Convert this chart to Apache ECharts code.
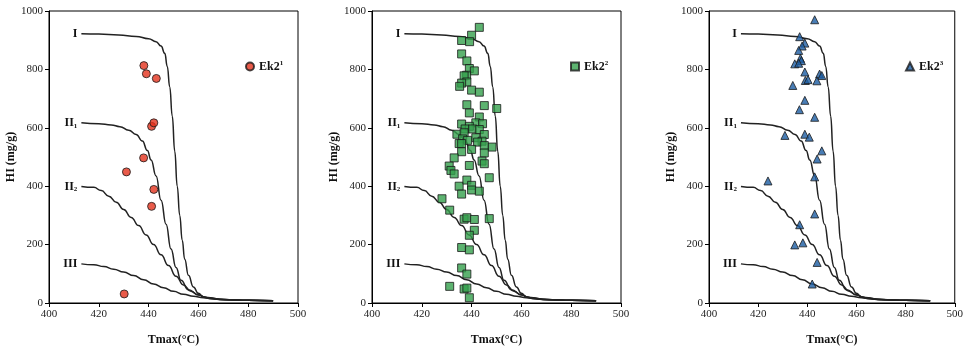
<!DOCTYPE html>
<html>
<head>
<meta charset="utf-8">
<script src="https://cdn.jsdelivr.net/npm/echarts@6/dist/echarts.min.js"></script>
<style>
  html, body { margin: 0; padding: 0; background: #fff; }
  #chart { width: 966px; height: 351px; }
</style>
</head>
<body>
<div id="chart"></div>
<script>
// kerogen type boundary curves (Tmax, HI)
const curveI = [[413,922],[420,921],[428,918],[435,913],[440,905],[443,895],[445,880],[446.5,855],[447.5,810],[448.5,740],[449.5,640],[450.5,520],[451.5,400],[452.5,300],[453.5,215],[454.5,150],[456,95],[458,55],[460,33],[462,21],[465,15],[470,11],[480,9],[490,8]];
const curveII1 = [[413,617],[420,614],[425,610],[428.5,604],[432,592],[435,577],[437.5,555],[439.5,522],[441,490],[443,435],[445,352],[447,270],[449,185],[451,122],[453,78],[456,45],[460,28],[463,19],[470,12],[480,9],[490,8]];
const curveII2 = [[413,399],[418,396],[421,385],[424,366],[427,345],[430,320],[433,293],[436,265],[439,233],[442,200],[445,165],[448,128],[451,92],[454,62],[457,40],[460,27],[463,19],[470,12],[480,9],[490,8]];
const curveIII = [[413,134],[418,131],[422,125],[426,116],[430,106],[434,94],[438,80],[442,65],[446,52],[450,40],[454,30],[458,23],[462,18],[466,14],[472,11],[480,9],[490,8]];

// samples (Tmax, HI)
const ek21 = [[438.1,813],[439.1,785],[443.1,769],[441.2,605],[442.1,617],[438.0,497],[431.1,449],[442.1,389],[441.2,331],[430.2,31]];
const ek22 = [
  [443.1,944],[440.0,917],[436.0,899],[439.2,895],[436.0,853],[438.1,829],[439.1,803],[441.1,795],[438.0,780],[437.0,778],
  [438.1,757],[436.0,753],[435.2,742],[440.0,729],[443.1,722],
  [438.1,679],[445.1,676],[450.1,666],[439.1,651],[443.1,637],[436.0,613],[441.7,617],[444.4,614],[439.1,605],[437.4,596],
  [440.4,596],[443.1,594],[434.1,578],[437.0,583],[445.1,577],[441.7,566],[436.4,562],[444.2,554],[438.4,557],[435.0,546],
  [436.0,546],[442.4,551],[448.2,534],[445.1,539],[440.0,526],[436.0,518],[445.1,514],[433.0,497],[444.2,486],[439.1,471],
  [431.0,469],[445.1,477],[431.7,454],[433.0,442],
  [447.1,429],[435.0,400],[438.1,421],[440.0,403],[440.0,387],[443.1,383],[436.0,373],[428.1,357],[431.2,318],[437.0,287],
  [438.1,292],[441.1,286],[447.1,289],[441.1,249],[439.1,232],[436.0,190],[439.1,182],[436.0,120],[438.1,99],[431.2,57],
  [437.0,48],[438.1,51],[439.1,18]
];
const ek23 = [
  [443.0,970],[436.9,912],[439.0,890],[437.9,880],[436.5,865],[437.2,838],[437.6,830],[434.9,819],[436.5,821],[439.0,791],
  [445.0,784],[445.9,779],[434.1,745],[439.2,762],[440.3,765],[443.9,761],[439.0,694],[436.8,662],[443.0,636],[430.9,574],
  [439.0,578],[440.8,568],[445.9,521],[444.0,493],[443.0,432],[424.0,418],[443.0,305],[436.9,268],[438.2,206],[434.9,199],
  [444.0,139],[442.0,65]
];

const xTicks = [400, 500, 20];
const yTicks = [0, 1000, 200];

const serif = '"Liberation Serif", "Times New Roman", serif';

const panels = [
  { name: 'Ek2_1', sup: '1', data: ek21, symbol: 'circle', color: '#e3321d', left: 49, legendLeft: 240 },
  { name: 'Ek2_2', sup: '2', data: ek22, symbol: 'rect', color: '#35a04c', left: 372, legendLeft: 565 },
  { name: 'Ek2_3', sup: '3', data: ek23, symbol: 'triangle', color: '#1b5ca3', left: 709, legendLeft: 900 },
];

const curves = [
  { data: curveI, label: '{a|I}' },
  { data: curveII1, label: '{a|II}{s|1}' },
  { data: curveII2, label: '{a|II}{s|2}' },
  { data: curveIII, label: '{a|III}' },
];

const grids = [], xAxes = [], yAxes = [], series = [], legends = [];

panels.forEach((p, i) => {
  grids.push({ left: p.left, top: 11, width: 249, height: 293, show: true, borderColor: '#000', borderWidth: 1 });
  xAxes.push({
    type: 'value', gridIndex: i, min: xTicks[0], max: xTicks[1], interval: xTicks[2],
    name: 'Tmax(°C)', nameLocation: 'middle', nameGap: 31,
    nameTextStyle: { fontFamily: serif, fontWeight: 'bold', fontSize: 12, color: '#111' },
    axisLine: { lineStyle: { color: '#000', width: 1 } },
    axisTick: { inside: false, length: 4, lineStyle: { color: '#000' } },
    axisLabel: { fontFamily: serif, fontSize: 11, color: '#222', margin: 6 },
    splitLine: { show: false },
  });
  yAxes.push({
    type: 'value', gridIndex: i, min: yTicks[0], max: yTicks[1], interval: yTicks[2],
    name: 'HI (mg/g)', nameLocation: 'middle', nameGap: 27,
    nameTextStyle: { fontFamily: serif, fontWeight: 'bold', fontSize: 12, color: '#111' },
    axisLine: { lineStyle: { color: '#000', width: 1 } },
    axisTick: { inside: false, length: 4, lineStyle: { color: '#000' } },
    axisLabel: { fontFamily: serif, fontSize: 11, color: '#222', margin: 6, formatter: (v) => String(v) },
    splitLine: { show: false },
  });

  curves.forEach((c) => {
    series.push({
      type: 'line', xAxisIndex: i, yAxisIndex: i,
      smooth: true, smoothMonotone: 'x',
      symbol: 'circle', symbolSize: 0, showSymbol: true,
      lineStyle: { color: '#222', width: 1.5 },
      itemStyle: { color: '#222' },
      silent: true,
      data: c.data.map((d, k) => k === 0 ? {
        value: d,
        label: {
          show: true, position: 'left', distance: 4,
          formatter: c.label,
          rich: {
            a: { fontFamily: serif, fontWeight: 'bold', fontSize: 12, color: '#111' },
            s: { fontFamily: serif, fontWeight: 'bold', fontSize: 7, color: '#111', verticalAlign: 'bottom', padding: [6, 0, 0, 0] },
          },
        },
      } : d),
    });
  });

  series.push({
    name: p.name, type: 'scatter', xAxisIndex: i, yAxisIndex: i,
    symbol: p.symbol, symbolSize: 8,
    itemStyle: { color: p.color, borderColor: '#1a1a1a', borderWidth: 1 },
    data: p.data,
    z: 5,
  });

  legends.push({
    data: [p.name], left: p.legendLeft, top: 55, itemWidth: 8, itemHeight: 8,
    itemGap: 5,
    formatter: () => '{a|Ek2}{s|' + p.sup + '}',
    textStyle: {
      rich: {
        a: { fontFamily: serif, fontWeight: 'bold', fontSize: 12, color: '#111' },
        s: { fontFamily: serif, fontWeight: 'bold', fontSize: 7, color: '#111', verticalAlign: 'top', padding: [0, 0, 6, 0] },
      },
    },
  });
});

const chart = echarts.init(document.getElementById('chart'), null, { renderer: 'canvas' });
chart.setOption({
  animation: false,
  backgroundColor: '#fff',
  grid: grids,
  xAxis: xAxes,
  yAxis: yAxes,
  legend: legends,
  series: series,
});
</script>
</body>
</html>
